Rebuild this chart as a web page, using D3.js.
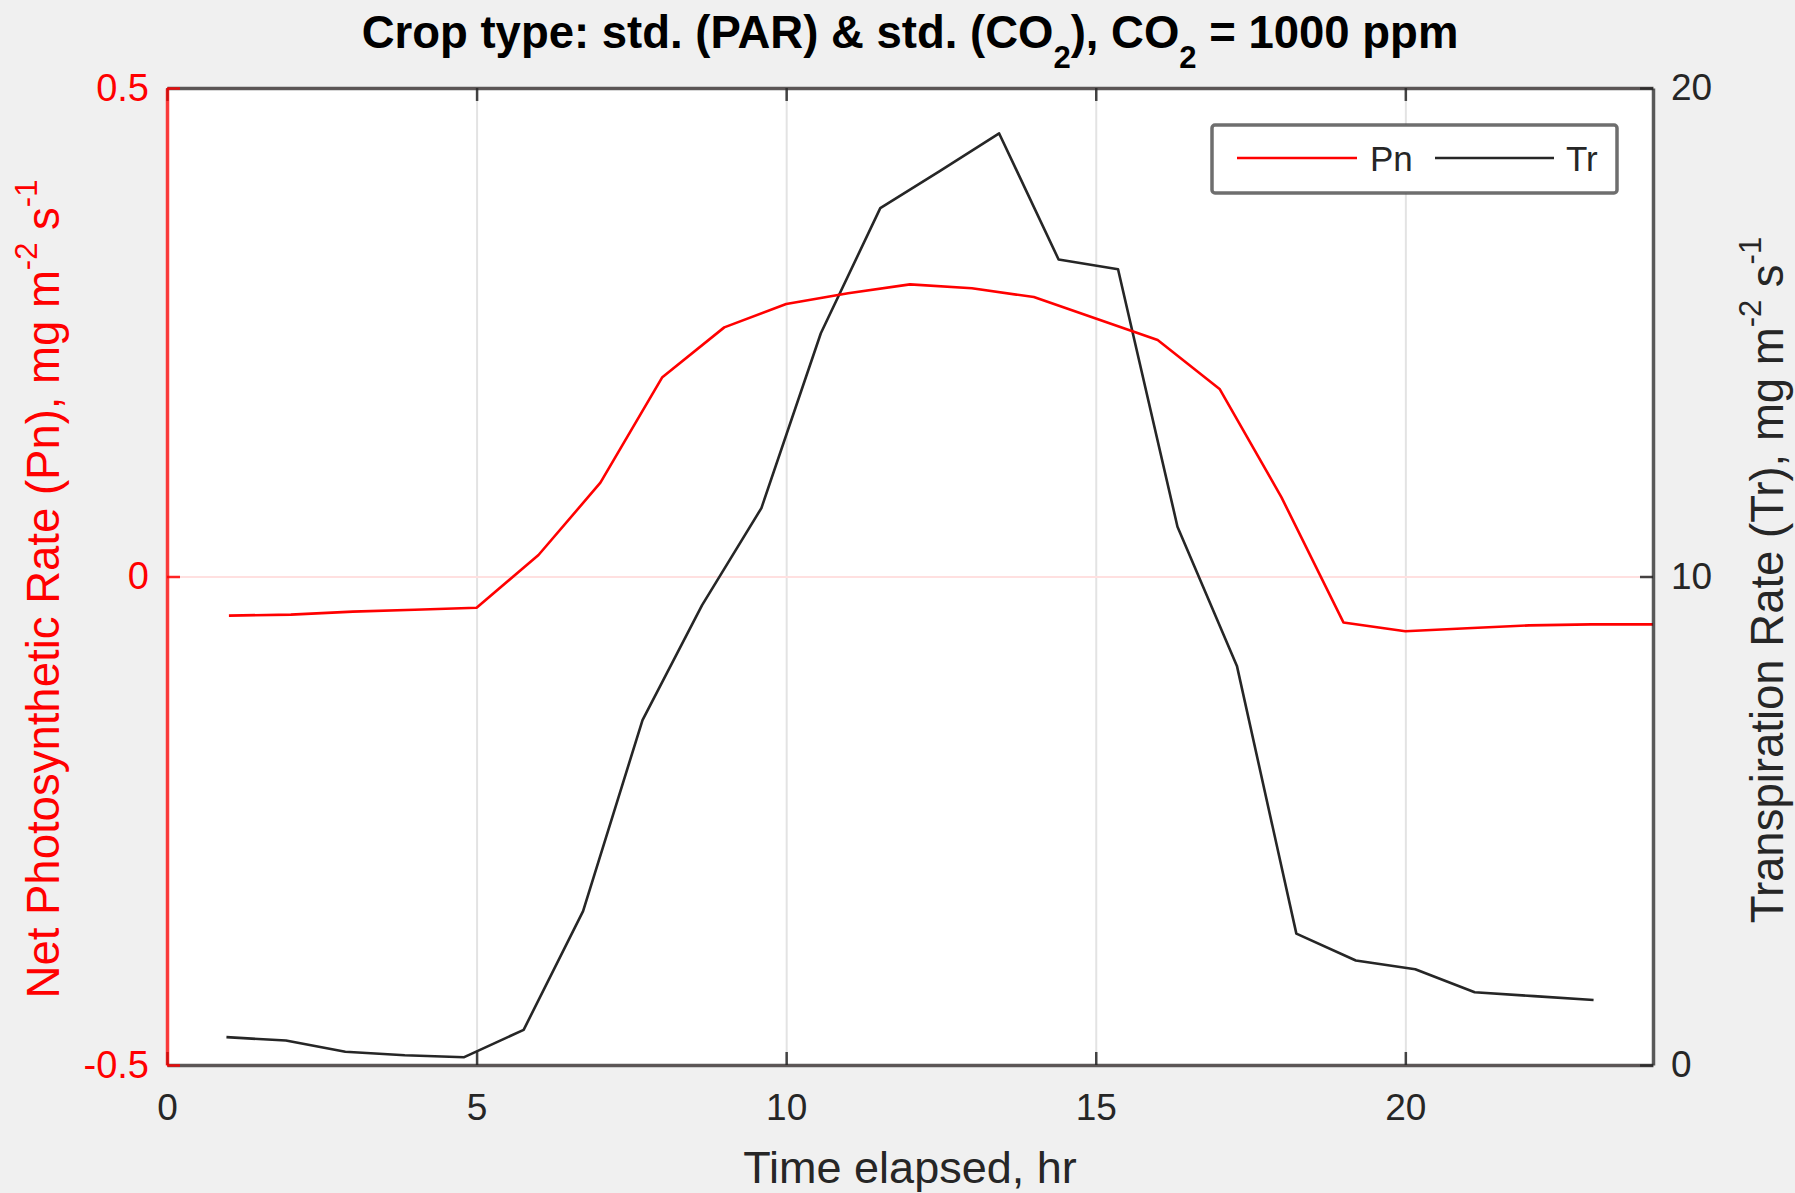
<!DOCTYPE html>
<html>
<head>
<meta charset="utf-8">
<script src="https://cdn.jsdelivr.net/npm/d3@7"></script>
<style>
  html, body { margin: 0; padding: 0; background: #f0f0f0; }
  svg text { font-family: "Liberation Sans", Arial, Helvetica, sans-serif; }
</style>
</head>
<body>
<div id="chart"></div>
<script>
// values
const pnHours = [1, 2, 3, 4, 5, 6, 7, 8, 9, 10, 11, 12, 13, 14, 15, 16, 17, 18, 19, 20, 21, 22, 23, 24];
const pnValues = [-0.040, -0.039, -0.036, -0.034, -0.032, 0.022, 0.096, 0.204, 0.255, 0.279, 0.290, 0.299,
                  0.295, 0.286, 0.264, 0.242, 0.192, 0.081, -0.047, -0.056, -0.053, -0.050, -0.049, -0.049];

const trHours = [0.96, 1.92, 2.88, 3.84, 4.80, 5.76, 6.72, 7.68, 8.64, 9.60, 10.56, 11.52,
                 12.48, 13.44, 14.40, 15.36, 16.32, 17.28, 18.24, 19.20, 20.16, 21.12, 22.08, 23.04];
const trValues = [0.57, 0.50, 0.27, 0.20, 0.16, 0.72, 3.15, 7.06, 9.41, 11.40, 14.98, 17.54,
                  18.30, 19.07, 16.49, 16.29, 11.02, 8.17, 2.69, 2.14, 1.96, 1.49, 1.41, 1.33];

const xTicks = [0, 5, 10, 15, 20];
const pnTicks = [-0.5, 0, 0.5];
const trTicks = [0, 10, 20];
const legendNames = ['Pn', 'Tr'];

const svgWidth = 1795;
const svgHeight = 1193;
const plot = { left: 167, right: 1653, top: 88, bottom: 1065 };

const RED = '#ff0000';
const DARK = '#262626';
const TICK = 13;

const x = d3.scaleLinear().domain([0, 24]).range([plot.left, plot.right]);
const yPn = d3.scaleLinear().domain([-0.5, 0.5]).range([plot.bottom, plot.top]);
const yTr = d3.scaleLinear().domain([0, 20]).range([plot.bottom, plot.top]);

const svg = d3.select('#chart')
    .append('svg')
    .attr('width', svgWidth)
    .attr('height', svgHeight);

svg.append('rect')
    .attr('width', svgWidth)
    .attr('height', svgHeight)
    .attr('fill', '#f0f0f0');

svg.append('rect')
    .attr('x', plot.left)
    .attr('y', plot.top)
    .attr('width', plot.right - plot.left)
    .attr('height', plot.bottom - plot.top)
    .attr('fill', '#ffffff');

// grid lines
const xGrid = svg.append('g')
    .attr('transform', `translate(0,${plot.bottom})`)
    .call(d3.axisBottom(x).tickValues(xTicks).tickSize(-(plot.bottom - plot.top)).tickFormat(''));
xGrid.select('.domain').remove();
xGrid.selectAll('line').attr('stroke', '#e3e3e3').attr('stroke-width', 2);

const yGrid = svg.append('g')
    .attr('transform', `translate(${plot.left},0)`)
    .call(d3.axisLeft(yPn).tickValues(pnTicks).tickSize(-(plot.right - plot.left)).tickFormat(''));
yGrid.select('.domain').remove();
yGrid.selectAll('line').attr('stroke', '#ffe0e0').attr('stroke-width', 2);

// data lines
svg.append('clipPath').attr('id', 'clip')
    .append('rect')
    .attr('x', plot.left).attr('y', plot.top)
    .attr('width', plot.right - plot.left).attr('height', plot.bottom - plot.top);

const pnLine = d3.line().x(d => x(d[0])).y(d => yPn(d[1]));
const trLine = d3.line().x(d => x(d[0])).y(d => yTr(d[1]));

svg.append('path')
    .datum(d3.zip(trHours, trValues))
    .attr('clip-path', 'url(#clip)')
    .attr('d', trLine)
    .attr('fill', 'none')
    .attr('stroke', DARK)
    .attr('stroke-width', 2.6)
    .attr('stroke-linejoin', 'round');

svg.append('path')
    .datum(d3.zip(pnHours, pnValues))
    .attr('clip-path', 'url(#clip)')
    .attr('d', pnLine)
    .attr('fill', 'none')
    .attr('stroke', RED)
    .attr('stroke-width', 2.6)
    .attr('stroke-linejoin', 'round');

// axes, ticks pointing inward
function styleAxis(g, color, fontSize) {
    g.select('.domain').attr('stroke', color).attr('stroke-width', 3.5).attr('stroke-opacity', 0.75);
    g.selectAll('.tick line').attr('stroke', color).attr('stroke-width', 2.5).attr('stroke-opacity', 0.85);
    g.selectAll('.tick text').attr('fill', color).attr('font-size', fontSize);
}

const xAxisTop = svg.append('g')
    .attr('transform', `translate(0,${plot.top})`)
    .call(d3.axisTop(x).tickValues(xTicks).tickSizeInner(-TICK).tickSizeOuter(0).tickFormat(''));
styleAxis(xAxisTop, DARK, 37);

const xAxis = svg.append('g')
    .attr('transform', `translate(0,${plot.bottom})`)
    .call(d3.axisBottom(x).tickValues(xTicks).tickSizeInner(-TICK).tickSizeOuter(0)
        .tickPadding(29).tickFormat(d => String(d)));
styleAxis(xAxis, DARK, 37);

const yAxisRight = svg.append('g')
    .attr('transform', `translate(${plot.right},0)`)
    .call(d3.axisRight(yTr).tickValues(trTicks).tickSizeInner(-TICK).tickSizeOuter(0)
        .tickPadding(18).tickFormat(d => String(d)));
styleAxis(yAxisRight, DARK, 37);

const yAxisLeft = svg.append('g')
    .attr('transform', `translate(${plot.left},0)`)
    .call(d3.axisLeft(yPn).tickValues(pnTicks).tickSizeInner(-TICK).tickSizeOuter(0)
        .tickPadding(18).tickFormat(d => String(d)));
styleAxis(yAxisLeft, RED, 38);

// title with subscripts
const title = svg.append('text')
    .attr('x', (plot.left + plot.right) / 2)
    .attr('y', 48)
    .attr('text-anchor', 'middle')
    .attr('font-size', 45.5)
    .attr('font-weight', 'bold')
    .attr('fill', '#000');
title.append('tspan').text('Crop type: std. (PAR) & std. (CO');
title.append('tspan').attr('dy', 20).attr('font-size', 31).text('2');
title.append('tspan').attr('dy', -20).text('), CO');
title.append('tspan').attr('dy', 20).attr('font-size', 31).text('2');
title.append('tspan').attr('dy', -20).text(' = 1000 ppm');

// x label
svg.append('text')
    .attr('x', (plot.left + plot.right) / 2)
    .attr('y', 1183)
    .attr('text-anchor', 'middle')
    .attr('font-size', 45)
    .attr('fill', DARK)
    .text('Time elapsed, hr');

// y labels with superscripts
function unitLabel(cx, cy, main, color) {
    const t = svg.append('text')
        .attr('transform', `translate(${cx},${cy}) rotate(-90)`)
        .attr('text-anchor', 'middle')
        .attr('font-size', 45.5)
        .attr('fill', color);
    t.append('tspan').text(main + ', mg m');
    t.append('tspan').attr('dy', -22).attr('font-size', 31).text('-2');
    t.append('tspan').attr('dy', 22).text(' s');
    t.append('tspan').attr('dy', -22).attr('font-size', 31).text('-1');
}
unitLabel(59, 589, 'Net Photosynthetic Rate (Pn)', RED);
unitLabel(1783, 580, 'Transpiration Rate (Tr)', DARK);

// legend
const legend = svg.append('g');
legend.append('rect')
    .attr('x', 1212).attr('y', 125)
    .attr('width', 405).attr('height', 68)
    .attr('rx', 3)
    .attr('fill', '#ffffff')
    .attr('stroke', '#555555')
    .attr('stroke-opacity', 0.85)
    .attr('stroke-width', 3.5);

const legendItems = [
    { name: legendNames[0], color: RED, x1: 1237, x2: 1357, tx: 1370 },
    { name: legendNames[1], color: DARK, x1: 1435, x2: 1554, tx: 1566 }
];
legendItems.forEach(d => {
    legend.append('line')
        .attr('x1', d.x1).attr('x2', d.x2)
        .attr('y1', 158).attr('y2', 158)
        .attr('stroke', d.color)
        .attr('stroke-width', 2.5);
    legend.append('text')
        .attr('x', d.tx).attr('y', 171)
        .attr('font-size', 35)
        .attr('fill', DARK)
        .text(d.name);
});
</script>
</body>
</html>
